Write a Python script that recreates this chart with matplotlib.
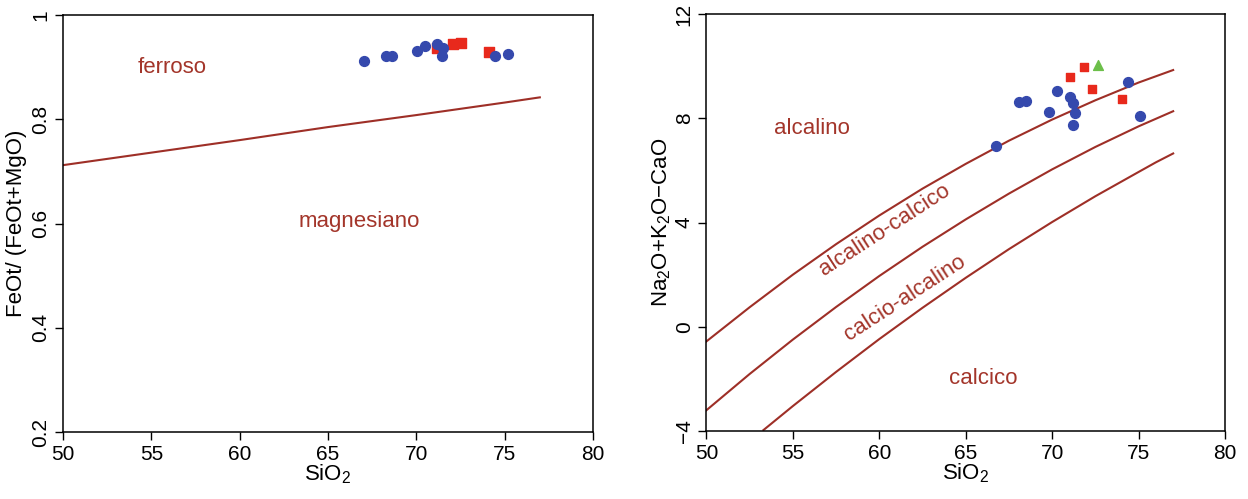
import numpy as np
import matplotlib.pyplot as plt

plt.rcParams['font.family'] = ['Liberation Sans', 'DejaVu Sans']
plt.rcParams['mathtext.fontset'] = 'custom'
plt.rcParams['mathtext.rm'] = 'Liberation Sans'

line_col = '#9e2f27'
txt_col = '#a3352a'
blue = '#3549ad'
red = '#e8291c'
green = '#6cbf4a'

# --- Fe-number diagram (ferroso / magnesiano)
fe_x = [50, 55, 60, 65, 70, 75, 77]
fe_y = [0.712, 0.736, 0.760, 0.785, 0.808, 0.832, 0.842]

fe_blue_x = [67.04, 68.28, 68.62, 70.04, 70.49, 71.17, 71.51, 71.45, 74.45, 75.19]
fe_blue_y = [0.912, 0.921, 0.921, 0.931, 0.941, 0.944, 0.937, 0.921, 0.921, 0.925]
fe_red_x = [71.17, 72.08, 72.53, 74.11]
fe_red_y = [0.937, 0.944, 0.946, 0.929]

# --- MALI diagram
mali_x = [50, 52.5, 55, 57.5, 60, 62.5, 65, 67.5, 70, 72.5, 75, 76, 77]
mali_a = [-0.56, 0.75, 2.00, 3.17, 4.27, 5.30, 6.25, 7.14, 7.95, 8.69, 9.37, 9.61, 9.85]   # alcalino / alcalino-calcico
mali_b = [-3.20, -1.81, -0.49, 0.76, 1.95, 3.07, 4.12, 5.11, 6.04, 6.90, 7.69, 7.98, 8.27]  # alcalino-calcico / calcio-alcalino
mali_c_x = [53.3, 55, 57.5, 60, 62.5, 65, 67.5, 70, 72.5, 75, 76, 77]
mali_c = [-3.96, -3.04, -1.73, -0.47, 0.73, 1.88, 2.98, 4.02, 5.01, 5.94, 6.31, 6.65]     # calcio-alcalino / calcico

mali_blue_x = [66.76, 68.11, 68.50, 69.79, 70.27, 71.04, 71.23, 71.33, 71.23, 74.41, 75.09]
mali_blue_y = [6.93, 8.61, 8.67, 8.25, 9.06, 8.83, 8.57, 8.19, 7.74, 9.38, 8.09]
mali_red_x = [71.04, 71.87, 72.33, 74.06]
mali_red_y = [9.59, 9.95, 9.13, 8.75]
mali_green_x = [72.68]
mali_green_y = [10.04]

fig = plt.figure(figsize=(12.48, 4.99), dpi=100)
ax1 = fig.add_axes([0.0505, 0.134, 0.4245, 0.836])
ax2 = fig.add_axes([0.566, 0.136, 0.4156, 0.836])

fs = 16

def style(ax):
    ax.tick_params(direction='out', length=6, width=1, labelsize=15, pad=3)
    for s in ax.spines.values():
        s.set_linewidth(1.1)
    for lab in ax.get_yticklabels():
        lab.set_rotation(90)
        lab.set_va('center')

ax1.plot(fe_x, fe_y, color=line_col, lw=1.5)
ax1.scatter(fe_red_x, fe_red_y, marker='s', s=45, color=red, zorder=3)
ax1.scatter(fe_blue_x, fe_blue_y, marker='o', s=50, color=blue, zorder=4)
ax1.text(56.2, 0.90, 'ferroso', color=txt_col, fontsize=fs, ha='center', va='center')
ax1.text(66.8, 0.603, 'magnesiano', color=txt_col, fontsize=fs, ha='center', va='center')
ax1.set_xlim(50, 80)
ax1.set_ylim(0.2, 1.0)
ax1.set_xticks([50, 55, 60, 65, 70, 75, 80])
ax1.set_yticks([0.2, 0.4, 0.6, 0.8, 1.0])
ax1.set_yticklabels(['0.2', '0.4', '0.6', '0.8', '1'])
ax1.set_xlabel('SiO$_2$', fontsize=fs, labelpad=-1)
ax1.set_ylabel('FeOt/ (FeOt+MgO)', fontsize=fs, labelpad=3)
style(ax1)

ax2.plot(mali_x, mali_a, color=line_col, lw=1.5)
ax2.plot(mali_x, mali_b, color=line_col, lw=1.5)
ax2.plot(mali_c_x, mali_c, color=line_col, lw=1.5)
ax2.scatter(mali_red_x, mali_red_y, marker='s', s=40, color=red, zorder=3)
ax2.scatter(mali_green_x, mali_green_y, marker='^', s=50, color=green, zorder=3)
ax2.scatter(mali_blue_x, mali_blue_y, marker='o', s=50, color=blue, zorder=4)
ax2.text(56.1, 7.6, 'alcalino', color=txt_col, fontsize=fs, ha='center', va='center')
ax2.text(60.3, 3.7, 'alcalino-calcico', color=txt_col, fontsize=fs, ha='center', va='center', rotation=33)
ax2.text(61.5, 1.1, 'calcio-alcalino', color=txt_col, fontsize=fs, ha='center', va='center', rotation=33)
ax2.text(66.0, -2.0, 'calcico', color=txt_col, fontsize=fs, ha='center', va='center')
ax2.set_xlim(50, 80)
ax2.set_ylim(-4, 12)
ax2.set_xticks([50, 55, 60, 65, 70, 75, 80])
ax2.set_yticks([-4, 0, 4, 8, 12])
ax2.set_xlabel('SiO$_2$', fontsize=fs, labelpad=-1)
ax2.set_ylabel('Na$_2$O+K$_2$O\u2212CaO', fontsize=fs, labelpad=1)
style(ax2)

fig.savefig('out.png', dpi=100)
